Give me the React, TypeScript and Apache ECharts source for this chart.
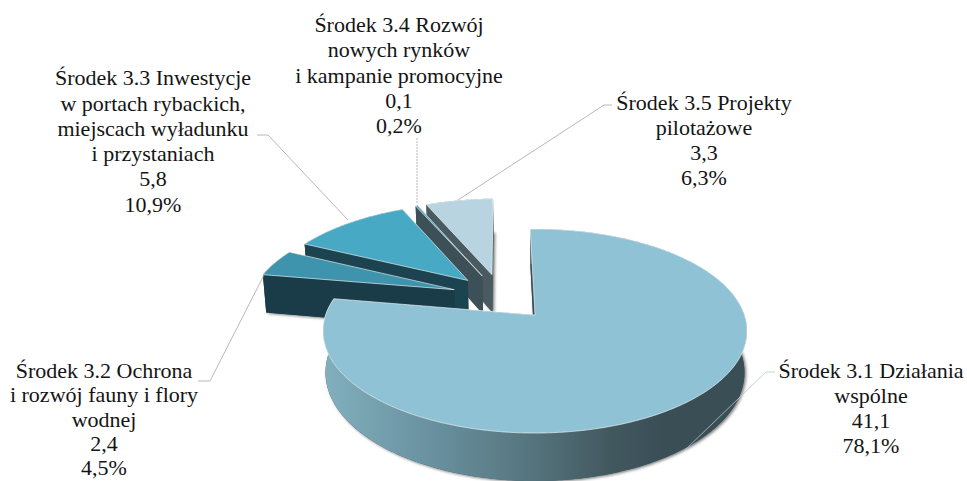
import React, { useEffect, useRef } from "react";
import * as echarts from "echarts";

const nameLines = [
  ["Środek 3.1 Działania", "wspólne"],
  ["Środek 3.2 Ochrona", "i rozwój fauny i flory", "wodnej"],
  ["Środek 3.3 Inwestycje", "w portach rybackich,", "miejscach wyładunku", "i przystaniach"],
  ["Środek 3.4 Rozwój", "nowych rynków", "i kampanie promocyjne"],
  ["Środek 3.5 Projekty", "pilotażowe"],
];
const amounts = [41.1, 2.4, 5.8, 0.1, 3.3];
const shares = [78.1, 4.5, 10.9, 0.2, 6.3];

const topColors = ["#8EC2D4", "#3E93AD", "#48A9C5", "#4FA3B8", "#B7D4E0"];
const sideColors = ["#3A4E56", "#1A3C48", "#1B4350", "#3D5058", "#4A5A61"];
const drawOrder = [4, 3, 2, 1, 0];

// label anchors: horizontal centre, vertical middle of the block, line height
const labelAnchors = [
  [871, 408, 25.3],
  [104, 419, 24.4],
  [153, 141, 25.3],
  [399, 75, 25.3],
  [704, 140, 25.0],
];
const leaderLines = [
  [[775, 372], [766, 372], [685, 450]],
  [[198, 381], [210, 381], [265, 273]],
  [[257, 135], [268, 135], [348, 220]],
  [[417, 138], [417, 204]],
  [[612, 105], [604, 105], [458, 200]],
];

const START = -1.5;
const P = 0.157, B = 99.5, C = 209.4, CX = 535, CY = 315, H = 40.5, E = 0.25, BOT = 0.988;
const rad = (d: number) => (d * Math.PI) / 180;

function topPoint(u: number, v: number) {
  const d = 1 + P * v;
  return [CX + (C * u) / d, CY - (B * v) / d];
}
function botPoint(u: number, v: number) {
  const d = 1 + P * v;
  return [CX + (BOT * C * u) / d, CY - (B * v) / d + H / d];
}

const ranges: [number, number][] = [];
{
  let a = START;
  for (const s of shares) {
    const sweep = (s / 100) * 360;
    ranges.push([a, a + sweep]);
    a += sweep;
  }
}
const mid = (i: number) => rad((ranges[i][0] + ranges[i][1]) / 2);

function apexOf(i: number) {
  return [E * (Math.sin(mid(i)) - Math.sin(mid(0))), E * (Math.cos(mid(i)) - Math.cos(mid(0)))];
}

const mainSideFill = {
  type: "linear", x: 0, y: 0, x2: 1, y2: 0,
  colorStops: [
    { offset: 0, color: "#82B0BE" },
    { offset: 0.22, color: "#6C95A4" },
    { offset: 0.45, color: "#597A84" },
    { offset: 0.68, color: "#42585F" },
    { offset: 0.8, color: "#3A4E56" },
    { offset: 1, color: "#3A4E56" },
  ],
};

function renderSlice(_params: any, api: any) {
  const i = api.value(0) as number;
  const [a0, a1] = ranges[i];
  const [ax, ay] = apexOf(i);
  const rim: number[][] = [];
  const steps = Math.max(2, Math.ceil((a1 - a0) * 1.5));
  for (let k = 0; k <= steps; k++) {
    const t = rad(a0 + ((a1 - a0) * k) / steps);
    rim.push([ax + Math.sin(t), ay + Math.cos(t)]);
  }
  const topRim = rim.map((p) => topPoint(p[0], p[1]));
  const botRim = rim.map((p) => botPoint(p[0], p[1]));
  const topApex = topPoint(ax, ay);
  const botApex = botPoint(ax, ay);
  const flat = sideColors[i];
  const side = i === 0 ? mainSideFill : flat;
  const shadow = { shadowBlur: 3, shadowColor: "rgba(0,0,0,0.55)", shadowOffsetX: 1.5, shadowOffsetY: 1 };
  const children: any[] = [
    {
      type: "polygon", silent: true,
      shape: { points: [botApex, ...botRim] },
      style: { fill: i === 0 ? "#42585F" : flat, ...shadow },
    },
    {
      type: "polygon", silent: true,
      shape: { points: [topApex, topRim[0], botRim[0], botApex] },
      style: { fill: flat },
    },
    {
      type: "polygon", silent: true,
      shape: { points: [topApex, topRim[steps], botRim[steps], botApex] },
      style: { fill: flat },
    },
    {
      type: "polygon", silent: true,
      shape: { points: [...topRim, ...botRim.slice().reverse()] },
      style: { fill: side },
    },
    {
      type: "polygon", silent: true,
      shape: { points: [topApex, ...topRim] },
      style: { fill: topColors[i], stroke: "rgba(255,255,255,0.75)", lineWidth: 0.8 },
    },
  ];
  return { type: "group", children };
}

const FONT = '"Liberation Serif", serif';

export default function App() {
  const ref = useRef<HTMLDivElement>(null);
  useEffect(() => {
    document.body.style.margin = "0";
    const chart = echarts.init(ref.current!, undefined, { renderer: "svg" });
    chart.setOption({
      animation: false,
      backgroundColor: "#ffffff",
      series: [
        {
          type: "custom",
          coordinateSystem: "none",
          silent: true,
          data: drawOrder.map((i) => [i, shares[i]]),
          renderItem: renderSlice,
        },
      ],
      graphic: {
        elements: [
          ...leaderLines.map((pts, i) => ({
            type: "polyline",
            z: 20,
            silent: true,
            shape: { points: pts },
            style: {
              fill: "none",
              stroke: i === 0 ? "#B8C4C8" : "#A6A6A6",
              lineWidth: 0.8,
              lineDash: i === 3 ? [2, 1] : undefined,
            },
          })),
          ...nameLines.map((lines, i) => ({
            type: "text",
            z: 30,
            silent: true,
            x: labelAnchors[i][0],
            y: labelAnchors[i][1],
            style: {
              text: [
                ...lines,
                amounts[i].toFixed(1).replace(".", ","),
                shares[i].toFixed(1).replace(".", ",") + "%",
              ].join("\n"),
              align: "center",
              verticalAlign: "middle",
              fontFamily: FONT,
              fontSize: 22,
              lineHeight: labelAnchors[i][2],
              fill: "#141414",
            },
          })),
        ],
      },
    });
    return () => chart.dispose();
  }, []);
  return <div ref={ref} style={{ position: "absolute", left: 0, top: 0, width: 967, height: 481, overflow: "hidden" }} />;
}
